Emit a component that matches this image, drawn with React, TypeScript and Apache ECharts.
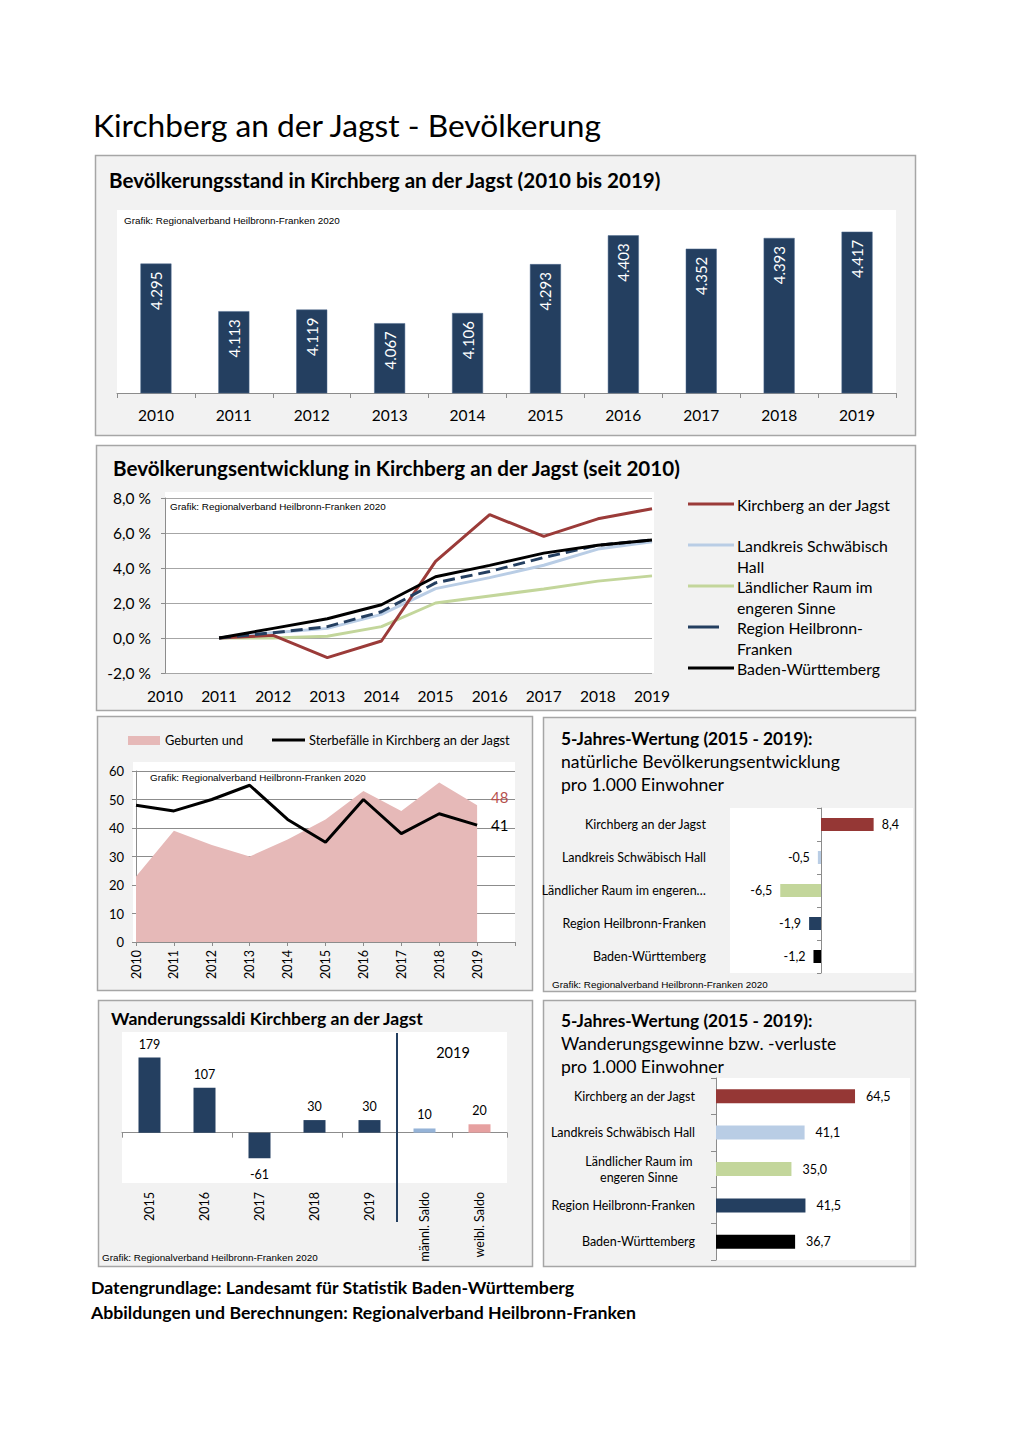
import React, { useEffect, useRef } from 'react';
import * as echarts from 'echarts';

// ---------- Data ----------
const years = ['2010', '2011', '2012', '2013', '2014', '2015', '2016', '2017', '2018', '2019'];
const population = [4295, 4113, 4119, 4067, 4106, 4293, 4403, 4352, 4393, 4417];

const devKirchberg = [null, 0, 0.15, -1.12, -0.17, 4.38, 7.05, 5.81, 6.81, 7.39];
const devLandkreis = [null, 0, 0.3, 0.55, 1.35, 2.82, 3.45, 4.16, 5.08, 5.5];
const devLaendlich = [null, 0, 0.0, 0.1, 0.65, 2.0, 2.4, 2.8, 3.25, 3.55];
const devRegion = [null, 0, 0.3, 0.65, 1.5, 3.15, 3.8, 4.6, 5.3, 5.6];
const devBW = [null, 0, 0.55, 1.1, 1.9, 3.5, 4.15, 4.85, 5.3, 5.6];

const bdYears = [...years, ''];
const births = [23, 39, 34, 30, 36, 43, 53, 46, 56, 48];
const deaths = [48, 46, 50, 55, 43, 35, 50, 38, 45, 41];

const natRegions = ['Kirchberg an der Jagst', 'Landkreis Schwäbisch Hall', 'Ländlicher Raum im engeren…', 'Region Heilbronn-Franken', 'Baden-Württemberg'];
const naturalBalance = [8.4, -0.5, -6.5, -1.9, -1.2];

const migCats = ['2015', '2016', '2017', '2018', '2019', 'männl. Saldo', 'weibl. Saldo'];
const migValues = [179, 107, -61, 30, 30, 10, 20];

const gainRegions = ['Kirchberg an der Jagst', 'Landkreis Schwäbisch Hall', 'Ländlicher Raum im\nengeren Sinne', 'Region Heilbronn-Franken', 'Baden-Württemberg'];
const migrationGain = [64.5, 41.1, 35.0, 41.5, 36.7];

// ---------- Styles ----------
const regionColors = ['#953735', '#b9cde5', '#c3d69b', '#243f60', '#000000'];
const migColors = ['#243f60', '#243f60', '#243f60', '#243f60', '#243f60', '#95b3d7', '#e6a0a0'];
const FONT = 'Lato';
const SMALL = 'Liberation Sans';

const de1 = (v: number) => v.toFixed(1).replace('.', ',');
const thousands = (v: number) => String(v).replace(/\B(?=(\d{3})+(?!\d))/g, '.');

const T = (text: string, x: number, y: number, size: number, o: any = {}) => ({
  type: 'text',
  x,
  y,
  z: 50,
  style: {
    text,
    fontSize: size,
    fontFamily: o.family || FONT,
    fontWeight: o.bold ? 'bold' : 'normal',
    fill: o.color || '#000',
    textAlign: o.align || 'left',
    textVerticalAlign: 'middle',
  },
});

const panel = (x: number, y: number, w: number, h: number) => ({
  type: 'rect',
  z: -10,
  shape: { x, y, width: w, height: h },
  style: { fill: '#f2f2f2', stroke: '#a6a6a6', lineWidth: 1.5 },
});

const whiteRect = (x: number, y: number, w: number, h: number) => ({
  type: 'rect',
  z: -5,
  shape: { x, y, width: w, height: h },
  style: { fill: '#ffffff' },
});

const legLine = (x1: number, x2: number, y: number, color: string) => ({
  type: 'line',
  z: 50,
  shape: { x1, y1: y, x2, y2: y },
  style: { stroke: color, lineWidth: 3 },
});

const GRAFIK = 'Grafik: Regionalverband Heilbronn-Franken 2020';

const App: React.FC = () => {
  const ref = useRef<HTMLDivElement>(null);

  useEffect(() => {
    if (!ref.current) return;
    const chart = echarts.init(ref.current, null, { renderer: 'svg' });

    const endLabel = (color: string, offsetY: number) => ({
      show: true,
      distance: 14,
      offset: [0, offsetY],
      color,
      fontSize: 15,
      fontFamily: FONT,
      formatter: (p: any) => String(p.value),
    });

    const option: any = {
      animation: false,
      backgroundColor: '#ffffff',
      textStyle: { fontFamily: FONT, color: '#000' },
      grid: [
        { left: 117, top: 210, width: 779, height: 183, show: true, backgroundColor: '#fff', borderWidth: 0 },
        { left: 165, top: 498, width: 487, height: 175, show: false },
        { left: 136, top: 771, width: 379, height: 171, show: false },
        { left: 727, top: 808, width: 188, height: 165, show: false },
        { left: 122, top: 1032, width: 385, height: 151, show: true, backgroundColor: '#fff', borderWidth: 0 },
        { left: 716, top: 1078, width: 194, height: 182, show: true, backgroundColor: '#fff', borderWidth: 0 },
      ],
      xAxis: [
        {
          gridIndex: 0, type: 'category', data: years,
          axisLine: { lineStyle: { color: '#8c8c8c' } },
          axisTick: { show: true, length: 5, lineStyle: { color: '#8c8c8c' } },
          axisLabel: { fontSize: 15.5, color: '#000', margin: 14 },
        },
        {
          gridIndex: 1, type: 'category', data: years, boundaryGap: false,
          axisLine: { show: false, onZero: false },
          axisTick: { show: false },
          axisLabel: { fontSize: 15.5, color: '#000', margin: 15 },
        },
        {
          gridIndex: 2, type: 'category', data: bdYears, boundaryGap: false,
          axisLine: { lineStyle: { color: '#8c8c8c' } },
          axisTick: { show: true, length: 4, interval: 0, lineStyle: { color: '#8c8c8c' } },
          axisLabel: { fontSize: 12.5, color: '#000', rotate: 90, margin: 8, interval: 0 },
        },
        { gridIndex: 3, type: 'value', min: -15, max: 15, show: false },
        {
          gridIndex: 4, type: 'category', data: migCats, position: 'bottom',
          axisLine: { show: false, onZero: false },
          axisTick: { show: false },
          axisLabel: { fontSize: 12.5, color: '#000', rotate: 90, margin: 9, interval: 0 },
        },
        {
          gridIndex: 4, type: 'category', data: migCats, position: 'top',
          axisLine: { show: true, onZero: true, lineStyle: { color: '#8c8c8c' } },
          axisTick: { show: true, inside: true, length: 5, lineStyle: { color: '#8c8c8c' } },
          axisLabel: { show: false },
        },
        { gridIndex: 5, type: 'value', min: 0, max: 90, show: false },
      ],
      yAxis: [
        { gridIndex: 0, type: 'value', min: 3800, max: 4500, show: false },
        {
          gridIndex: 1, type: 'value', min: -2, max: 8, interval: 2,
          axisLine: { show: true, lineStyle: { color: '#8c8c8c' } },
          axisTick: { show: true, length: 4, lineStyle: { color: '#8c8c8c' } },
          axisLabel: { fontSize: 15.5, color: '#000', margin: 14, formatter: (v: number) => de1(v) + ' %' },
          splitLine: { lineStyle: { color: '#a6a6a6' } },
        },
        {
          gridIndex: 2, type: 'value', min: 0, max: 60, interval: 10,
          axisLine: { show: true, lineStyle: { color: '#8c8c8c' } },
          axisTick: { show: true, length: 4, lineStyle: { color: '#8c8c8c' } },
          axisLabel: { fontSize: 13, color: '#000', margin: 12 },
          splitLine: { lineStyle: { color: '#8c8c8c' } },
        },
        {
          gridIndex: 3, type: 'category', data: natRegions, inverse: true, position: 'left',
          axisLine: { show: false, onZero: false },
          axisTick: { show: false },
          axisLabel: { fontSize: 12.5, color: '#000', margin: 21 },
        },
        {
          gridIndex: 3, type: 'category', data: natRegions, inverse: true, position: 'right',
          axisLine: { show: true, onZero: true, lineStyle: { color: '#8c8c8c' } },
          axisTick: { show: true, inside: true, length: 4, lineStyle: { color: '#8c8c8c' } },
          axisLabel: { show: false },
        },
        { gridIndex: 4, type: 'value', min: -120, max: 240, show: false },
        {
          gridIndex: 5, type: 'category', data: gainRegions, inverse: true,
          axisLine: { show: true, lineStyle: { color: '#8c8c8c' } },
          axisTick: { show: true, length: 5, lineStyle: { color: '#8c8c8c' } },
          axisLabel: {
            fontSize: 12.5, color: '#000', margin: 21, lineHeight: 16,
            formatter: (v: string) =>
              v.indexOf('\n') >= 0 ? v.split('\n').map((l) => '{c|' + l + '}').join('\n') : v,
            rich: { c: { width: 112, align: 'center', fontSize: 12.5, lineHeight: 16, color: '#000' } },
          },
        },
      ],
      series: [
        {
          type: 'bar', xAxisIndex: 0, yAxisIndex: 0, data: population, barWidth: 31,
          itemStyle: { color: '#243f60', borderColor: '#4f6b8f', borderWidth: 0.5 },
          label: {
            show: true, position: 'insideTop', rotate: 90, align: 'right', verticalAlign: 'middle',
            distance: 8, color: '#fff', fontSize: 15, formatter: (p: any) => thousands(p.value),
          },
        },
        { type: 'line', name: 'Ländlicher Raum im engeren Sinne', xAxisIndex: 1, yAxisIndex: 1, data: devLaendlich, symbol: 'none', lineStyle: { color: '#c3d69b', width: 3 } },
        { type: 'line', name: 'Landkreis Schwäbisch Hall', xAxisIndex: 1, yAxisIndex: 1, data: devLandkreis, symbol: 'none', lineStyle: { color: '#b9cde5', width: 3 } },
        { type: 'line', name: 'Kirchberg an der Jagst', xAxisIndex: 1, yAxisIndex: 1, data: devKirchberg, symbol: 'none', lineStyle: { color: '#9b3b39', width: 3 } },
        { type: 'line', name: 'Region Heilbronn-Franken', xAxisIndex: 1, yAxisIndex: 1, data: devRegion, symbol: 'none', lineStyle: { color: '#243f60', width: 3, type: [12, 6] } },
        { type: 'line', name: 'Baden-Württemberg', xAxisIndex: 1, yAxisIndex: 1, data: devBW, symbol: 'none', lineStyle: { color: '#000', width: 3 } },
        {
          type: 'line', name: 'Geburten', xAxisIndex: 2, yAxisIndex: 2, data: births,
          symbol: 'none', lineStyle: { width: 0 }, areaStyle: { color: '#e6b9b8', opacity: 1 },
          endLabel: endLabel('#b5504d', -8),
        },
        {
          type: 'line', name: 'Sterbefälle', xAxisIndex: 2, yAxisIndex: 2, data: deaths,
          symbol: 'none', lineStyle: { color: '#000', width: 3 },
          endLabel: endLabel('#000', 0),
        },
        {
          type: 'bar', xAxisIndex: 3, yAxisIndex: 3, barWidth: 13,
          data: naturalBalance.map((v, i) => ({
            value: v,
            itemStyle: { color: regionColors[i] },
            label: { position: v >= 0 ? 'right' : 'left' },
          })),
          label: { show: true, fontSize: 12.5, color: '#000', distance: 8, formatter: (p: any) => de1(p.value) },
        },
        {
          type: 'bar', xAxisIndex: 4, yAxisIndex: 5, barWidth: 22,
          data: migValues.map((v, i) => ({
            value: v,
            itemStyle: { color: migColors[i] },
            label: { position: v >= 0 ? 'top' : 'bottom', distance: v >= 0 ? 7 : 10 },
          })),
          label: { show: true, fontSize: 12.5, color: '#000' },
        },
        {
          type: 'bar', xAxisIndex: 6, yAxisIndex: 6, barWidth: 14,
          data: migrationGain.map((v, i) => ({ value: v, itemStyle: { color: regionColors[i] } })),
          label: { show: true, position: 'right', distance: 11, fontSize: 12.5, color: '#000', formatter: (p: any) => de1(p.value) },
        },
      ],
      graphic: [
        T('Kirchberg an der Jagst - Bevölkerung', 93, 125, 31.7),
        panel(95.5, 155.5, 820, 280),
        panel(96.5, 445.5, 819, 265),
        panel(97.5, 716.5, 435, 274),
        panel(543.5, 717.5, 372, 274),
        panel(98.5, 1000.5, 434, 266),
        panel(543.5, 1000.5, 372, 266),
        whiteRect(165, 492, 489, 181),
        whiteRect(133, 762, 382, 180),
        whiteRect(730, 808, 183, 165),
        T('Bevölkerungsstand in Kirchberg an der Jagst (2010 bis 2019)', 109, 180, 20.6, { bold: true }),
        T(GRAFIK, 124, 220, 9.9, { family: SMALL }),
        T('Bevölkerungsentwicklung in Kirchberg an der Jagst (seit 2010)', 113, 468, 20.6, { bold: true }),
        T(GRAFIK, 170, 506, 9.9, { family: SMALL }),
        legLine(688, 734, 504, '#9b3b39'),
        legLine(688, 734, 545, '#b9cde5'),
        legLine(688, 734, 586, '#c3d69b'),
        legLine(688, 719, 627, '#243f60'),
        legLine(688, 734, 668, '#000'),
        T('Kirchberg an der Jagst', 737, 504, 15.8),
        T('Landkreis Schwäbisch', 737, 545, 15.8),
        T('Hall', 737, 566, 15.8),
        T('Ländlicher Raum im', 737, 586, 15.8),
        T('engeren Sinne', 737, 607, 15.8),
        T('Region Heilbronn-', 737, 627, 15.8),
        T('Franken', 737, 648, 15.8),
        T('Baden-Württemberg', 737, 668, 15.8),
        { type: 'rect', z: 50, shape: { x: 128, y: 736, width: 32, height: 9 }, style: { fill: '#e6b9b8' } },
        T('Geburten und', 165, 740, 12.8),
        legLine(272, 305, 740, '#000'),
        T('Sterbefälle in Kirchberg an der Jagst', 309, 740, 12.8),
        T(GRAFIK, 150, 777, 9.9, { family: SMALL }),
        T('5-Jahres-Wertung (2015 - 2019):', 561, 738, 17.3, { bold: true }),
        T('natürliche Bevölkerungsentwicklung', 561, 761, 17.6),
        T('pro 1.000 Einwohner', 561, 784, 17.6),
        T(GRAFIK, 552, 984, 9.9, { family: SMALL }),
        T('Wanderungssaldi Kirchberg an der Jagst', 111, 1018, 17.6, { bold: true }),
        { type: 'line', z: 50, shape: { x1: 397, y1: 1033, x2: 397, y2: 1222 }, style: { stroke: '#243f60', lineWidth: 2 } },
        T('2019', 453, 1052, 14.5, { align: 'center' }),
        T(GRAFIK, 102, 1257, 9.9, { family: SMALL }),
        T('5-Jahres-Wertung (2015 - 2019):', 561, 1020, 17.3, { bold: true }),
        T('Wanderungsgewinne bzw. -verluste', 561, 1043, 17.6),
        T('pro 1.000 Einwohner', 561, 1066, 17.6),
        T('Datengrundlage: Landesamt für Statistik Baden-Württemberg', 91, 1287, 17.7, { bold: true }),
        T('Abbildungen und Berechnungen: Regionalverband Heilbronn-Franken', 91, 1312, 17.7, { bold: true }),
      ],
    };

    chart.setOption(option);
    return () => chart.dispose();
  }, []);

  return (
    <div
      ref={ref}
      style={{ position: 'absolute', left: 0, top: 0, width: 1020, height: 1442, background: '#fff' }}
    />
  );
};

export default App;
